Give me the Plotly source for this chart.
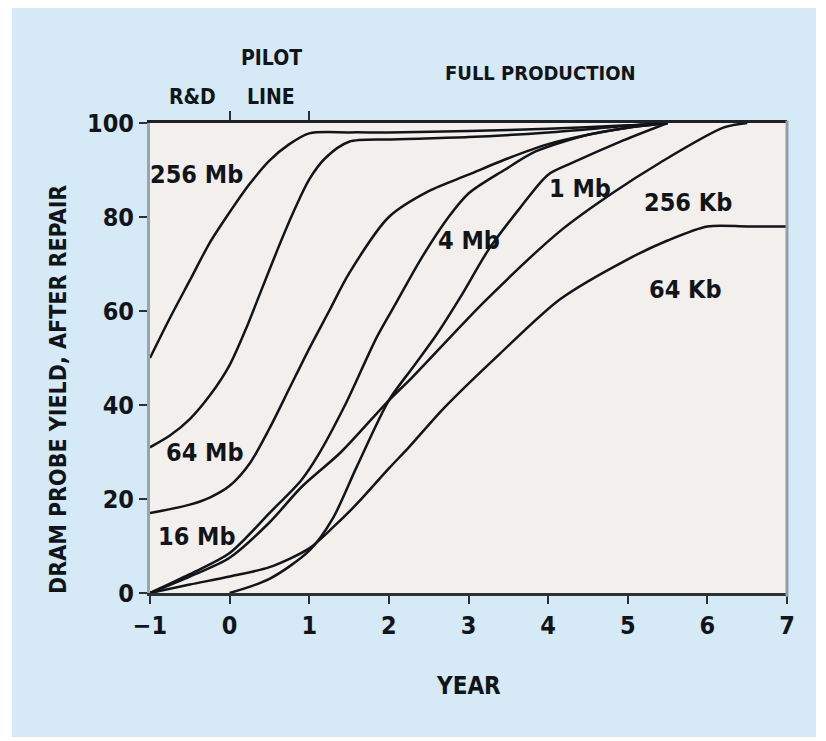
import plotly.graph_objects as go

# ---- data ----
x_256M = [-1, -0.75, -0.5, -0.25, 0, 0.25, 0.5, 0.75, 1.0, 1.5, 2, 3, 4, 5, 5.5]
y_256M = [50, 58.5, 66.5, 74.5, 81, 87, 92, 95.5, 97.8, 98, 98, 98.3, 98.8, 99.5, 100]

x_64M = [-1, -0.75, -0.5, -0.25, 0, 0.2, 0.4, 0.6, 0.8, 1.0, 1.2, 1.5, 2, 3, 4, 5, 5.5]
y_64M = [31, 33.5, 37, 42, 48.5, 56, 64.5, 73, 81, 88, 92.5, 96, 96.5, 97, 98, 99.4, 100]

x_16M = [-1, -0.5, -0.25, 0, 0.25, 0.5, 0.75, 1, 1.25, 1.5, 2, 2.5, 3, 3.5, 4, 4.5, 5, 5.5]
y_16M = [17, 18.8, 20.3, 22.8, 27.5, 35, 43.5, 52, 60, 68, 80, 85.5, 89, 92.5, 95.5, 97.5, 99, 100]

x_4M = [-1, -0.5, 0, 0.5, 0.9, 1.1, 1.45, 1.85, 2.1, 2.4, 2.75, 3, 3.45, 3.85, 4.5, 5, 5.5]
y_4M = [0, 4, 8.5, 17, 24, 29, 40, 54.5, 62, 71, 80, 85, 90, 94, 97.5, 99, 100]

x_1M = [0, 0.5, 1, 1.3, 1.6, 2, 2.3, 2.6, 2.9, 3.25, 3.65, 4, 4.3, 4.9, 5.5]
y_1M = [0, 3, 9, 16, 27, 41, 48, 55, 63, 73, 82, 89, 91.5, 96, 100]

x_256K = [-1, -0.5, 0, 0.5, 0.9, 1.4, 2, 2.3, 3.2, 4.15, 4.8, 5.4, 6.2, 6.5]
y_256K = [0, 3.5, 7.5, 15, 22.5, 30, 41, 46, 62, 77, 85, 91.5, 99, 100]

x_64K = [-1, -0.5, 0, 0.5, 1, 1.3, 1.6, 2, 2.25, 2.7, 3.4, 4.15, 5, 5.5, 6, 6.5, 7]
y_64K = [0, 1.8, 3.5, 5.5, 9.5, 14, 19, 26.5, 31, 39.5, 51, 62.5, 71, 75, 78, 78, 78]

series = [
    ("256 Mb", x_256M, y_256M),
    ("64 Mb", x_64M, y_64M),
    ("16 Mb", x_16M, y_16M),
    ("4 Mb", x_4M, y_4M),
    ("1 Mb", x_1M, y_1M),
    ("256 Kb", x_256K, y_256K),
    ("64 Kb", x_64K, y_64K),
]

# label positions (data coords)
label_names = ["256 Mb", "64 Mb", "16 Mb", "4 Mb", "1 Mb", "256 Kb", "64 Kb"]
label_x = [-0.41, -0.31, -0.41, 3.0, 4.4, 5.76, 5.72]
label_y = [89, 30, 12, 75, 86, 83, 64.5]

x_ticks = [-1, 0, 1, 2, 3, 4, 5, 6, 7]
x_ticktext = ["\u22121", "0", "1", "2", "3", "4", "5", "6", "7"]
y_ticks = [0, 20, 40, 60, 80, 100]
phase_ticks = [0, 1]

FONT = "Liberation Sans Narrow, DejaVu Sans Condensed, Roboto Condensed, Arial Narrow, Liberation Sans, sans-serif"
INK = "#111418"
BLUE = "#d5e9f6"
PLOTBG = "#f3efec"

fig = go.Figure()
for name, xs, ys in series:
    fig.add_trace(go.Scatter(x=xs, y=ys, mode="lines", name=name,
                             line=dict(color=INK, width=2.5, shape="spline", smoothing=0.8),
                             showlegend=False, hoverinfo="skip"))

# invisible trace for top axis
fig.add_trace(go.Scatter(x=[-1, 7], y=[0, 0], xaxis="x2", mode="lines",
                         line=dict(width=0), showlegend=False, hoverinfo="skip"))

def txt(size):
    return dict(family=FONT, size=size, color=INK, weight="bold")

ann = []
for t, lx, ly in zip(label_names, label_x, label_y):
    ann.append(dict(x=lx, y=ly, xref="x", yref="y", text=t, showarrow=False,
                    xanchor="center", yanchor="middle", font=txt(25)))

ann += [
    dict(x=-0.47, y=1.0553, xref="x", yref="paper", text="R&D", font=txt(21)),
    dict(x=0.52, y=1.138, xref="x", yref="paper", text="PILOT", font=txt(21)),
    dict(x=0.52, y=1.0553, xref="x", yref="paper", text="LINE", font=txt(21)),
    dict(x=3.9, y=1.106, xref="x", yref="paper", text="FULL PRODUCTION", font=txt(20)),
    dict(x=-0.1444, y=0.432, xref="paper", yref="paper", text="DRAM PROBE YIELD, AFTER REPAIR",
         textangle=-90, font=txt(23)),
    dict(x=3, y=-0.198, xref="x", yref="paper", text="YEAR", font=txt(24)),
]
for a in ann[len(label_names):]:
    a.update(showarrow=False, xanchor="center", yanchor="middle")

shapes = [
    dict(type="rect", xref="paper", yref="paper", x0=-0.2166, x1=1.0455, y0=-0.3064, y1=1.2447,
         fillcolor=BLUE, line=dict(width=0), layer="below"),
    dict(type="rect", xref="paper", yref="paper", x0=0, x1=1, y0=0, y1=1,
         fillcolor=PLOTBG, line=dict(width=0), layer="below"),
    dict(type="line", xref="paper", yref="paper", x0=1, x1=1, y0=-0.008, y1=1.005,
         line=dict(color="#939ea8", width=3), layer="above"),
]

fig.update_layout(
    width=826, height=741, autosize=False,
    margin=dict(l=142, r=47, t=115, b=156),
    paper_bgcolor="white", plot_bgcolor=PLOTBG,
    annotations=ann, shapes=shapes,
    xaxis=dict(range=[-1, 7], tickvals=x_ticks, ticktext=x_ticktext,
               showgrid=False, zeroline=False, showline=True, linecolor="#2b3035", linewidth=3,
               ticks="outside", ticklen=8, tickwidth=2, tickcolor="#2b3035",
               tickfont=txt(25)),
    xaxis2=dict(range=[-1, 7], overlaying="x", side="top", tickvals=phase_ticks,
                showticklabels=False, showgrid=False, zeroline=False, showline=True,
                linecolor="#1e2226", linewidth=3, ticks="outside", ticklen=9, tickwidth=2,
                tickcolor="#2b3035"),
    yaxis=dict(range=[0, 100], tickvals=y_ticks, showgrid=False, zeroline=False,
               showline=True, linecolor="#9aa4ad", linewidth=3,
               ticks="outside", ticklen=8, tickwidth=2, tickcolor="#2b3035",
               tickfont=txt(25)),
)

fig.write_html("out.html")
